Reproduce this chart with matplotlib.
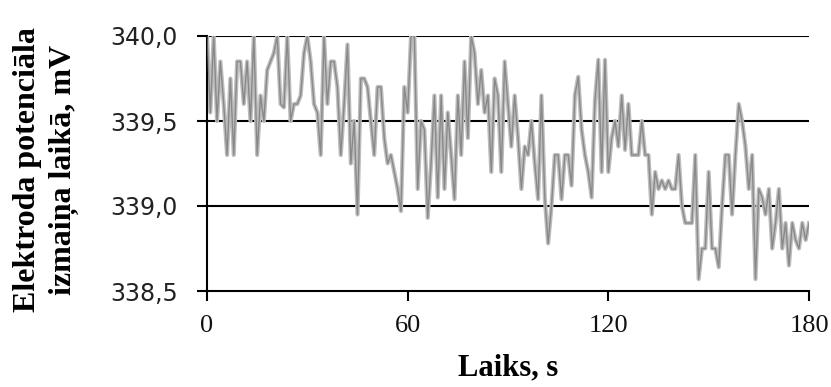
import matplotlib
matplotlib.use("Agg")
import matplotlib.pyplot as plt
import numpy as np
from matplotlib.ticker import FuncFormatter

time_s = list(range(0, 181))
potential_mV = [
    340.0, 339.55, 340.0, 339.5, 339.85, 339.6, 339.3, 339.75, 339.3, 339.85,
    339.85, 339.6, 339.85, 339.5, 340.0, 339.3, 339.65, 339.5, 339.8, 339.85,
    339.9, 340.0, 339.6, 339.58, 340.0, 339.5, 339.6, 339.6, 339.65, 339.9,
    340.0, 339.85, 339.6, 339.55, 339.3, 340.0, 339.6, 339.85, 339.85, 339.7,
    339.3, 339.6, 339.95, 339.25, 339.5, 338.95, 339.75, 339.75, 339.7, 339.5,
    339.3, 339.7, 339.7, 339.4, 339.25, 339.3, 339.2, 339.1, 338.97, 339.7,
    339.55, 340.0, 340.0, 339.1, 339.5, 339.45, 338.93, 339.25, 339.65, 339.05,
    339.65, 339.1, 339.55, 339.3, 339.04, 339.65, 339.3, 339.85, 339.4, 340.0,
    339.9, 339.6, 339.8, 339.55, 339.65, 339.2, 339.75, 339.65, 339.2, 339.85,
    339.6, 339.35, 339.65, 339.4, 339.1, 339.35, 339.3, 339.5, 339.25, 339.04,
    339.65, 339.05, 338.78, 339.0, 339.3, 339.3, 339.04, 339.3, 339.3, 339.12,
    339.65, 339.76, 339.45, 339.3, 339.2, 339.05, 339.62, 339.86, 339.2, 339.86,
    339.2, 339.4, 339.5, 339.35, 339.65, 339.33, 339.6, 339.3, 339.3, 339.3,
    339.5, 339.3, 339.3, 338.95, 339.2, 339.1, 339.15, 339.1, 339.15, 339.1,
    339.1, 339.3, 339.0, 338.9, 338.9, 338.9, 339.3, 338.57, 338.75, 338.75,
    339.2, 338.75, 338.75, 338.64, 339.0, 339.3, 339.3, 338.95, 339.3, 339.6,
    339.5, 339.35, 339.1, 339.3, 338.57, 339.1, 339.05, 338.95, 339.1, 338.75,
    338.9, 339.1, 338.75, 338.9, 338.65, 338.9, 338.8, 338.75, 338.9, 338.8,
    338.9,
]
x_ticks = [0, 60, 120, 180]
y_ticks = [338.5, 339.0, 339.5, 340.0]

fig = plt.figure(figsize=(8.31, 3.87), dpi=100)
ax = fig.add_axes([207/831, 1-291/387, (809-207)/831, (291-36)/387])

for yv in y_ticks[1:]:
    ax.axhline(yv, color="black", lw=1.5, zorder=1)

ax.plot(time_s, potential_mV, color="#bdbdbd", lw=3.0, zorder=2)
ax.plot(time_s, potential_mV, color="#787878", lw=1.0, zorder=3, alpha=0.75)

ax.set_xlim(0, 180)
ax.set_ylim(338.5, 340.0)
ax.set_xticks(x_ticks)
ax.set_yticks(y_ticks)
ax.yaxis.set_major_formatter(FuncFormatter(lambda v, p: f"{v:.1f}".replace(".", ",")))

for s in ["top", "right"]:
    ax.spines[s].set_visible(False)
for s in ["left", "bottom"]:
    ax.spines[s].set_linewidth(1.5)
    ax.spines[s].set_color("black")

ax.tick_params(axis="both", direction="out", length=7, width=1.5, color="black")
ax.tick_params(axis="y", pad=14)
ax.tick_params(axis="x", pad=10)
for lab in ax.get_yticklabels():
    lab.set_fontfamily("DejaVu Sans")
    lab.set_fontsize(17)
    lab.set_color("#222222")
for lab in ax.get_xticklabels():
    lab.set_fontfamily("Liberation Serif")
    lab.set_fontsize(19)
    lab.set_color("#111111")

fig.text(508/831, 1-368/387, "Laiks, s", ha="center", va="center",
         fontfamily="Liberation Serif", fontweight="bold", fontsize=22)
fig.text(46/831, 1-170/387, "Elektroda potenciāla\nizmaiņa laikā, mV", ha="center", va="center",
         rotation=90, multialignment="center", linespacing=1.3,
         fontfamily="Liberation Serif", fontweight="bold", fontsize=23)

fig.savefig("out.png", dpi=100)
